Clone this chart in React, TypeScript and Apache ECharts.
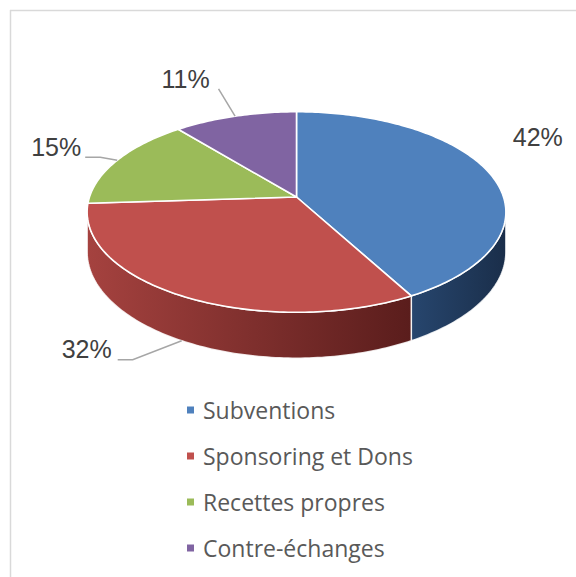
import React, { useEffect, useRef } from "react";
import * as echarts from "echarts";

// ---- data ----
const categories = ["Subventions", "Sponsoring et Dons", "Recettes propres", "Contre-échanges"];
const shares = [42, 32, 15, 11];
const labels = ["42%", "32%", "15%", "11%"];

// ---- styling ----
const topColors = ["#4F81BD", "#C0504D", "#9BBB59", "#8064A2"];
const wallColors = [
  ["#27466e", "#1a2e4a"],
  ["#a5423f", "#5a1d1c"],
  ["#7d9a45", "#5c7230"],
  ["#654f84", "#4a3a62"],
];
// label placement relative to the slice anchor (text center, leader elbow, leader end)
const labelLayout = [
  { text: [48, -37], elbow: null, end: null },
  { text: [-95, 8.5], elbow: [-49, 19], end: [-64, 19] },
  { text: [-61, -13.5], elbow: [-17, -3], end: [-32, -3] },
  { text: [-49.5, -37.4], elbow: [-16.5, -27.4], end: [-16.5, -27.4] },
];

// ---- pseudo-3D geometry ----
const CX = 296.5;
const CY = 197;
const RX = 207;
const RY = 98;
const DIST = 6.67;
const DEPTH = 39;
const TAU = Math.PI * 2;
const VIS0 = Math.acos(-1 / DIST);
const VIS1 = TAU - VIS0;

const total = shares.reduce((a, b) => a + b, 0);
const starts = shares.map((_, i) => (shares.slice(0, i).reduce((a, b) => a + b, 0) / total) * TAU);

function proj(phi: number, dy: number): number[] {
  const x3 = Math.sin(phi);
  const z3 = -Math.cos(phi);
  const s = DIST / (DIST - z3);
  return [CX + RX * x3 * s, CY + RY * z3 * s + dy * s];
}

function arc(a0: number, a1: number, dy: number): number[][] {
  const n = Math.max(2, Math.ceil((a1 - a0) / (Math.PI / 180)));
  const pts: number[][] = [];
  for (let k = 0; k <= n; k++) pts.push(proj(a0 + ((a1 - a0) * k) / n, dy));
  return pts;
}

function makeRenderItem(i: number) {
  return (_params: any, api: any) => {
    const value = api.value(0) as number;
    const a0 = starts[i];
    const a1 = a0 + (value / total) * TAU;
    const children: any[] = [];

    // outer wall (front part only)
    const lo = Math.max(a0, VIS0);
    const hi = Math.min(a1, VIS1);
    if (hi > lo) {
      const pts = arc(lo, hi, 0).concat(arc(lo, hi, DEPTH).reverse());
      children.push({
        type: "polygon",
        z2: 1,
        shape: { points: pts },
        style: {
          fill: new echarts.graphic.LinearGradient(0, 0, 1, 0, [
            { offset: 0, color: wallColors[i][0] },
            { offset: 1, color: wallColors[i][1] },
          ]),
          stroke: "rgba(255,255,255,0.85)",
          lineWidth: 1.5,
          lineJoin: "round",
        },
      });
    }

    // top face
    const top = [[CX, CY]].concat(arc(a0, a1, 0));
    children.push({
      type: "polygon",
      z2: 10,
      shape: { points: top },
      style: { fill: topColors[i], stroke: "#ffffff", lineWidth: 1.6, lineJoin: "round" },
    });

    // label
    const mid = (a0 + a1) / 2;
    const front = -Math.cos(mid) > 0;
    const anchor = proj(mid, front ? DEPTH : 0);
    const lay = labelLayout[i];
    if (lay.elbow && lay.end) {
      children.push({
        type: "polyline",
        z2: 20,
        shape: {
          points: [
            anchor,
            [anchor[0] + lay.elbow[0], anchor[1] + lay.elbow[1]],
            [anchor[0] + lay.end[0], anchor[1] + lay.end[1]],
          ],
        },
        style: { stroke: "#a6a6a6", lineWidth: 1.5, fill: "none" },
      });
    }
    children.push({
      type: "text",
      z2: 20,
      x: anchor[0] + lay.text[0],
      y: anchor[1] + lay.text[1],
      style: {
        text: labels[i],
        fill: "#404040",
        fontSize: 25,
        fontFamily: "Liberation Sans, Arial, sans-serif",
        align: "center",
        verticalAlign: "middle",
      },
    });

    return { type: "group", children };
  };
}

export default function App() {
  const ref = useRef<HTMLDivElement>(null);
  useEffect(() => {
    if (!ref.current) return;
    const chart = echarts.init(ref.current, undefined, { renderer: "svg" });
    chart.setOption({
      animation: false,
      backgroundColor: "#ffffff",
      legend: {
        orient: "vertical",
        left: 187,
        top: 398,
        padding: 0,
        icon: "rect",
        itemWidth: 7,
        itemHeight: 7,
        itemGap: 22,
        selectedMode: false,
        data: categories,
        textStyle: {
          fontSize: 23,
          lineHeight: 24,
          fontFamily: "Open Sans, Noto Sans, sans-serif",
          color: "#595959",
          padding: [0, 0, 0, 4],
        },
      },
      graphic: [
        { type: "line", shape: { x1: 10, y1: 10.5, x2: 576, y2: 10.5 }, style: { stroke: "#d9d9d9", lineWidth: 1.5 } },
        { type: "line", shape: { x1: 10.5, y1: 10, x2: 10.5, y2: 577 }, style: { stroke: "#d9d9d9", lineWidth: 1.5 } },
      ],
      series: categories.map((name, i) => ({
        type: "custom",
        name,
        coordinateSystem: "none",
        itemStyle: { color: topColors[i] },
        data: [[shares[i]]],
        renderItem: makeRenderItem(i),
      })),
    });
    return () => chart.dispose();
  }, []);
  return (
    <div
      ref={ref}
      style={{ position: "fixed", left: 0, top: 0, width: 576, height: 577, background: "#fff" }}
    />
  );
}
